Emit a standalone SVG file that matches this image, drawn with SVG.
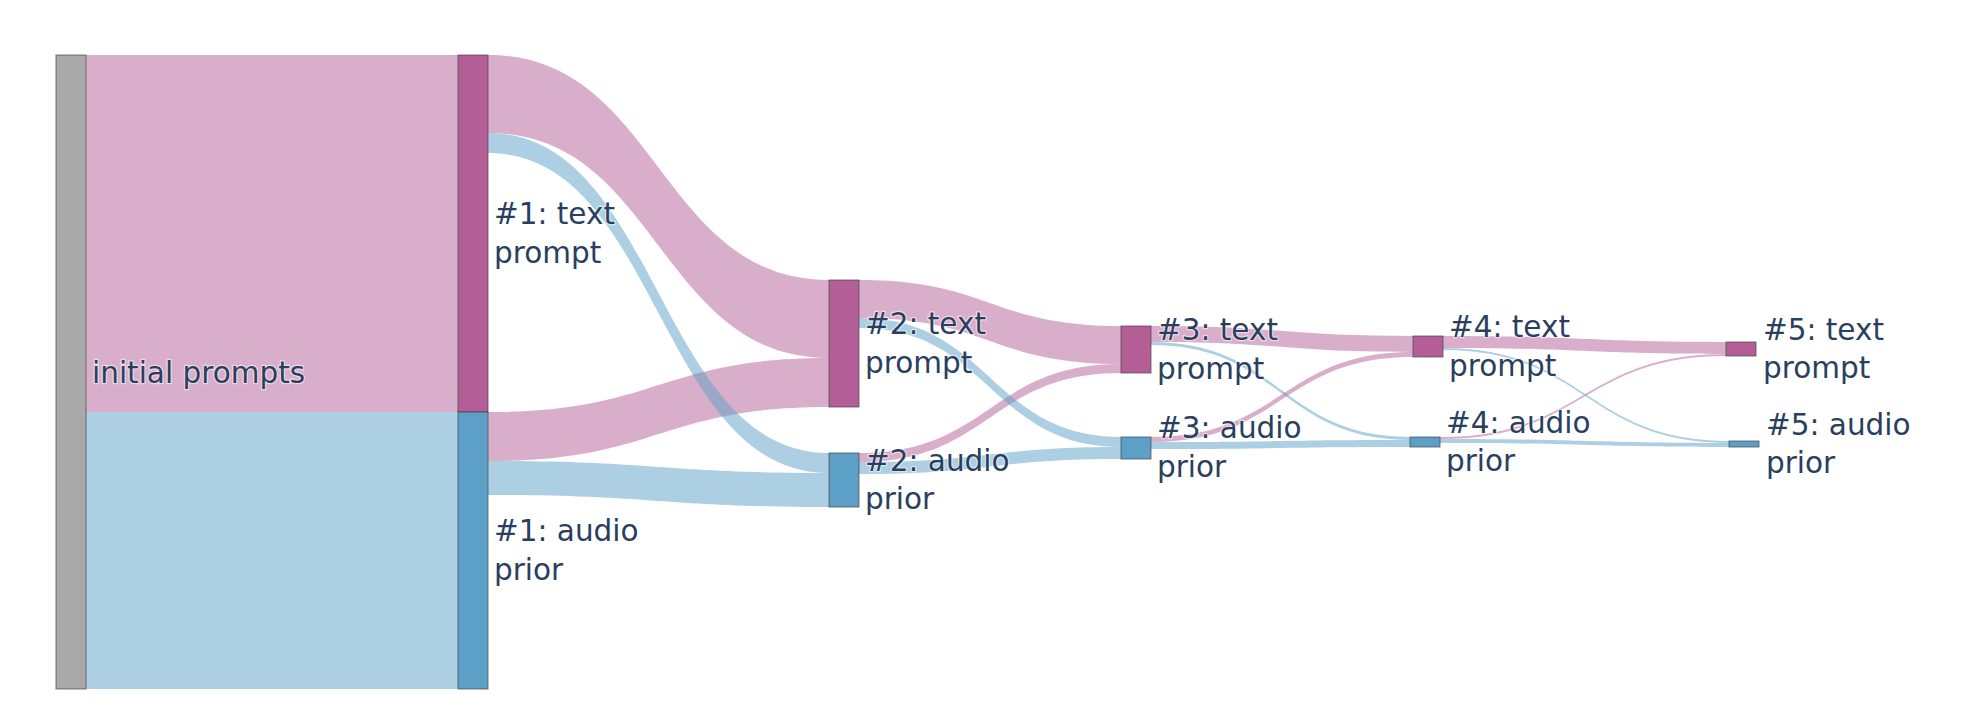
<svg xmlns="http://www.w3.org/2000/svg" width="1965" height="711" viewBox="0 0 1965 711">
<style>
.lp{fill:#b35e96;fill-opacity:0.5}
.lb{fill:#5ca0c8;fill-opacity:0.5}
.n{stroke:#444;stroke-width:1;stroke-opacity:0.7}
.ng{fill:#a9a9a9}
.nt{fill:#b35e96}
.na{fill:#5ca0c8}
.t{font-family:"DejaVu Sans","Verdana",sans-serif;font-size:29.5px;fill:#2a3f5f;stroke:#fff;stroke-width:2.5;stroke-opacity:0.55;paint-order:stroke;stroke-linejoin:round}
</style>
<rect width="1965" height="711" fill="#fff"/>
<g id="links">
<path class="lp" d="M86 55 L458 55 L458 412 L86 412 Z"/>
<path class="lb" d="M86 412 L458 412 L458 689 L86 689 Z"/>
<path class="lp" d="M488 55 C658.5 55 658.5 280 829 280 L829 358 C658.5 358 658.5 133 488 133 Z"/>
<path class="lp" d="M488 412 C658.5 412 658.5 358 829 358 L829 407 C658.5 407 658.5 461 488 461 Z"/>
<path class="lb" d="M488 133 C658.5 133 658.5 453 829 453 L829 473 C658.5 473 658.5 153 488 153 Z"/>
<path class="lb" d="M488 461 C658.5 461 658.5 473 829 473 L829 507 C658.5 507 658.5 495 488 495 Z"/>
<path class="lp" d="M859 280 C990 280 990 326 1121 326 L1121 364 C990 364 990 318 859 318 Z"/>
<path class="lp" d="M859 453 C990 453 990 364 1121 364 L1121 373 C990 373 990 462 859 462 Z"/>
<path class="lb" d="M859 318 C990 318 990 437 1121 437 L1121 447 C990 447 990 328 859 328 Z"/>
<path class="lb" d="M859 462 C990 462 990 447 1121 447 L1121 459 C990 459 990 474 859 474 Z"/>
<path class="lp" d="M1151 326 C1282 326 1282 336 1413 336 L1413 352 C1282 352 1282 342 1151 342 Z"/>
<path class="lp" d="M1151 437 C1282 437 1282 352 1413 352 L1413 357 C1282 357 1282 442 1151 442 Z"/>
<path class="lb" d="M1151 342 C1280.5 342 1280.5 437 1410 437 L1410 440 C1280.5 440 1280.5 345 1151 345 Z"/>
<path class="lb" d="M1151 442 C1280.5 442 1280.5 440 1410 440 L1410 447 C1280.5 447 1280.5 449 1151 449 Z"/>
<path class="lp" d="M1443 336 C1584.5 336 1584.5 342 1726 342 L1726 354 C1584.5 354 1584.5 348 1443 348 Z"/>
<path class="lp" d="M1440 437 C1583 437 1583 354 1726 354 L1726 356 C1583 356 1583 439 1440 439 Z"/>
<path class="lb" d="M1443 348 C1586 348 1586 441 1729 441 L1729 443 C1586 443 1586 350 1443 350 Z"/>
<path class="lb" d="M1440 439 C1584.5 439 1584.5 443 1729 443 L1729 447 C1584.5 447 1584.5 443 1440 443 Z"/>
</g>
<g id="node-initial"><rect class="n ng" x="56" y="55" width="30" height="634"/><text class="t" x="92" y="383">initial prompts</text></g>
<g id="node-t1"><rect class="n nt" x="458" y="55" width="30" height="357"/><text class="t" x="494" y="224">#1: text</text><text class="t" x="494" y="262.5">prompt</text></g>
<g id="node-a1"><rect class="n na" x="458" y="412" width="30" height="277"/><text class="t" x="494" y="541">#1: audio</text><text class="t" x="494" y="579.5">prior</text></g>
<g id="node-t2"><rect class="n nt" x="829" y="280" width="30" height="127"/><text class="t" x="865" y="334">#2: text</text><text class="t" x="865" y="372.5">prompt</text></g>
<g id="node-a2"><rect class="n na" x="829" y="453" width="30" height="54"/><text class="t" x="865" y="470.5">#2: audio</text><text class="t" x="865" y="509">prior</text></g>
<g id="node-t3"><rect class="n nt" x="1121" y="326" width="30" height="47"/><text class="t" x="1157" y="340">#3: text</text><text class="t" x="1157" y="378.5">prompt</text></g>
<g id="node-a3"><rect class="n na" x="1121" y="437" width="30" height="22"/><text class="t" x="1157" y="438">#3: audio</text><text class="t" x="1157" y="476.5">prior</text></g>
<g id="node-t4"><rect class="n nt" x="1413" y="336" width="30" height="21"/><text class="t" x="1449" y="337">#4: text</text><text class="t" x="1449" y="375.5">prompt</text></g>
<g id="node-a4"><rect class="n na" x="1410" y="437" width="30" height="10"/><text class="t" x="1446" y="432.5">#4: audio</text><text class="t" x="1446" y="471">prior</text></g>
<g id="node-t5"><rect class="n nt" x="1726" y="342" width="30" height="14"/><text class="t" x="1763" y="339.5">#5: text</text><text class="t" x="1763" y="378">prompt</text></g>
<g id="node-a5"><rect class="n na" x="1729" y="441" width="30" height="6"/><text class="t" x="1766" y="434.5">#5: audio</text><text class="t" x="1766" y="473">prior</text></g>
</svg>
